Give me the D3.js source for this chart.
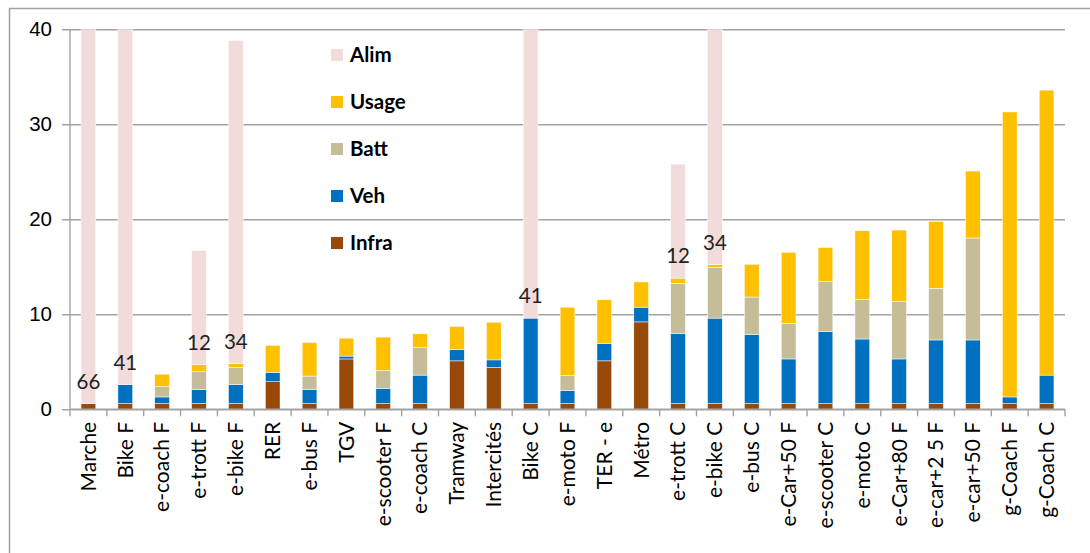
<!DOCTYPE html>
<html>
<head>
<meta charset="utf-8">
<script src="https://cdn.jsdelivr.net/npm/d3@7"></script>
<style>
  body { margin: 0; background: #fff; }
  svg { display: block; font-family: Lato, "Open Sans", sans-serif; }
  .axis text { fill: #000; font-size: 20.5px; }
  .x-label { fill: #000; font-size: 21px; }
  .legend text { font-size: 20.5px; font-weight: bold; fill: #000; }
  .data-label { font-size: 20.5px; fill: #222; }
</style>
</head>
<body>
<svg id="chart"></svg>
<script>
// mode de transport
const categories = ['Marche', 'Bike F', 'e-coach F', 'e-trott F', 'e-bike F', 'RER', 'e-bus F', 'TGV',
  'e-scooter F', 'e-coach C', 'Tramway', 'Intercités', 'Bike C', 'e-moto F', 'TER - e', 'Métro',
  'e-trott C', 'e-bike C', 'e-bus C', 'e-Car+50 F', 'e-scooter C', 'e-moto C', 'e-Car+80 F',
  'e-car+2 5 F', 'e-car+50 F', 'g-Coach F', 'g-Coach C'];

// series values (stacked from bottom: Infra, Veh, Batt, Usage, Alim)
const infra = [0.6, 0.6, 0.6, 0.6, 0.6, 2.9, 0.6, 5.3, 0.6, 0.6, 5.1, 4.4, 0.6, 0.6, 5.1, 9.2,
  0.6, 0.6, 0.6, 0.6, 0.6, 0.6, 0.6, 0.6, 0.6, 0.6, 0.6];
const veh = [0, 2.0, 0.7, 1.5, 2.0, 1.0, 1.5, 0.3, 1.6, 3.0, 1.2, 0.8, 9.0, 1.4, 1.8, 1.55,
  7.4, 9.0, 7.25, 4.7, 7.6, 6.8, 4.7, 6.7, 6.7, 0.7, 3.0];
const batt = [0, 0, 1.1, 1.85, 1.8, 0, 1.4, 0, 1.9, 2.9, 0, 0, 0, 1.55, 0, 0,
  5.25, 5.35, 3.97, 3.75, 5.23, 4.18, 6.04, 5.44, 10.73, 0, 0];
const usage = [0, 0, 1.3, 0.77, 0.42, 2.84, 3.54, 1.89, 3.5, 1.44, 2.43, 3.97, 0, 7.2, 4.63, 2.66,
  0.56, 0.31, 3.44, 7.48, 3.6, 7.22, 7.53, 7.05, 7.05, 30.0, 30.0];
const alim = [66, 41, 0, 12, 34, 0, 0, 0, 0, 0, 0, 0, 41, 0, 0, 0,
  12, 34, 0, 0, 0, 0, 0, 0, 0, 0, 0];

const seriesKeys = ['Infra', 'Veh', 'Batt', 'Usage', 'Alim'];
const seriesColors = ['#984807', '#0070C0', '#C4BD97', '#FFC000', '#F2DCDB'];
const legendOrder = ['Alim', 'Usage', 'Batt', 'Veh', 'Infra'];
const yTicks = [0, 10, 20, 30, 40];

class StackedBars {
  constructor(_config) {
    this.config = {
      parentElement: _config.parentElement,
      containerWidth: 1090,
      containerHeight: 553,
      margin: {top: 29.3, right: 25, bottom: 143.7, left: 70}
    };
    this.initVis();
  }

  initVis() {
    let vis = this;
    vis.width = vis.config.containerWidth - vis.config.margin.left - vis.config.margin.right;
    vis.height = vis.config.containerHeight - vis.config.margin.top - vis.config.margin.bottom;

    vis.svg = d3.select(vis.config.parentElement)
      .attr('width', vis.config.containerWidth)
      .attr('height', vis.config.containerHeight);

    // outer frame of the chart area
    vis.svg.append('path')
      .attr('d', `M9.5,${vis.config.containerHeight + 2}V8.5H${vis.config.containerWidth + 2}`)
      .attr('fill', 'none')
      .attr('stroke', '#a0a0a0')
      .attr('stroke-width', 1.5);

    vis.chart = vis.svg.append('g')
      .attr('transform', `translate(${vis.config.margin.left}, ${vis.config.margin.top})`);

    vis.svg.append('defs').append('clipPath').attr('id', 'plot-clip')
      .append('rect')
      .attr('x', 0).attr('y', 0)
      .attr('width', vis.width).attr('height', vis.height);

    vis.xScale = d3.scaleBand()
      .domain(categories)
      .range([0, vis.width])
      .paddingInner(0.6)
      .paddingOuter(0.3);

    vis.yScale = d3.scaleLinear()
      .domain([0, 40])
      .range([vis.height, 0]);

    vis.updateVis();
  }

  updateVis() {
    let vis = this;
    vis.table = categories.map((c, i) => ({
      cat: c, Infra: infra[i], Veh: veh[i], Batt: batt[i], Usage: usage[i], Alim: alim[i]
    }));
    vis.stacked = d3.stack().keys(seriesKeys)(vis.table);
    vis.colorScale = d3.scaleOrdinal().domain(seriesKeys).range(seriesColors);
    vis.renderVis();
  }

  renderVis() {
    let vis = this;

    // gridlines + y labels
    let yAxis = d3.axisLeft(vis.yScale)
      .tickValues(yTicks)
      .tickSizeInner(-(vis.width + 8))
      .tickSizeOuter(0)
      .tickPadding(10);

    let yAxisG = vis.chart.append('g')
      .attr('class', 'axis y-axis')
      .attr('transform', 'translate(-8,0)')
      .call(yAxis);
    yAxisG.select('.domain').remove();
    yAxisG.selectAll('line').attr('stroke', '#a3a3a3').attr('stroke-width', 1.4);

    // vertical axis line
    vis.chart.append('line')
      .attr('x1', 0).attr('x2', 0)
      .attr('y1', 0).attr('y2', vis.height)
      .attr('stroke', '#a3a3a3').attr('stroke-width', 1.4);

    // bars
    let plot = vis.chart.append('g').attr('clip-path', 'url(#plot-clip)');
    plot.selectAll('.series')
      .data(vis.stacked)
      .join('g')
      .attr('class', 'series')
      .attr('fill', d => vis.colorScale(d.key))
      .selectAll('rect')
      .data(d => d.filter(s => s[1] > s[0]))
      .join('rect')
      .attr('x', d => vis.xScale(d.data.cat))
      .attr('width', vis.xScale.bandwidth())
      .attr('y', d => vis.yScale(d[1]))
      .attr('height', d => vis.yScale(d[0]) - vis.yScale(d[1]))
      .attr('stroke', '#ffffff')
      .attr('stroke-width', 0.5);

    // x axis ticks at category boundaries
    let step = vis.xScale.step();
    let bounds = d3.range(categories.length + 1).map(i => i * step);
    vis.chart.append('g')
      .selectAll('line')
      .data(bounds)
      .join('line')
      .attr('x1', d => d).attr('x2', d => d)
      .attr('y1', vis.height).attr('y2', vis.height + 7)
      .attr('stroke', '#a3a3a3').attr('stroke-width', 1.4);

    vis.chart.append('line')
      .attr('x1', 0).attr('x2', vis.width)
      .attr('y1', vis.height).attr('y2', vis.height)
      .attr('stroke', '#a3a3a3').attr('stroke-width', 1.4);

    vis.chart.append('g')
      .selectAll('text')
      .data(categories)
      .join('text')
      .attr('class', 'x-label')
      .attr('text-anchor', 'end')
      .attr('dy', '0.35em')
      .attr('transform', d => `translate(${vis.xScale(d) + vis.xScale.bandwidth() / 2},${vis.height + 12.5}) rotate(-90)`)
      .text(d => d);

    // alim data labels, sitting above the rest of the stack
    vis.chart.append('g')
      .selectAll('text')
      .data(vis.table.filter(d => d.Alim > 0))
      .join('text')
      .attr('class', 'data-label')
      .attr('text-anchor', 'middle')
      .attr('dy', '0.35em')
      .attr('x', d => vis.xScale(d.cat) + vis.xScale.bandwidth() / 2)
      .attr('y', d => vis.yScale(d.Infra + d.Veh + d.Batt + d.Usage) - 22)
      .text(d => d.Alim);

    // legend
    let legend = vis.svg.append('g')
      .attr('class', 'legend')
      .attr('transform', 'translate(331,49)');
    let items = legend.selectAll('g')
      .data(legendOrder)
      .join('g')
      .attr('transform', (d, i) => `translate(0,${i * 47})`);
    items.append('rect')
      .attr('width', 12).attr('height', 12)
      .attr('fill', d => vis.colorScale(d));
    items.append('text')
      .attr('x', 19).attr('y', 6)
      .attr('dy', '0.35em')
      .text(d => d);
  }
}

const chart = new StackedBars({parentElement: '#chart'});
</script>
</body>
</html>
